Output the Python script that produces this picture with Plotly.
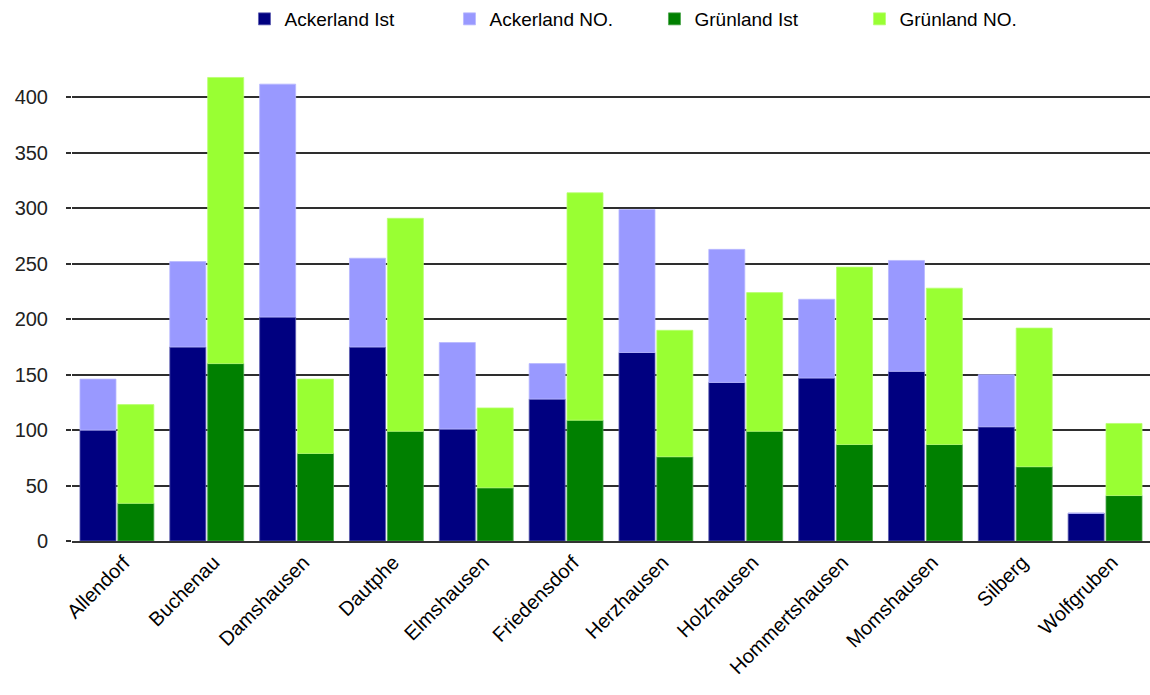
import plotly.graph_objects as go

# Ortsteile
orte = ["Allendorf", "Buchenau", "Damshausen", "Dautphe", "Elmshausen", "Friedensdorf",
        "Herzhausen", "Holzhausen", "Hommertshausen", "Momshausen", "Silberg", "Wolfgruben"]

# Flächen (Ist-Bestand und Zuwachs laut NO.)
ackerland_ist = [100, 175, 202, 175, 101, 128, 170, 143, 147, 153, 103, 25]
ackerland_no = [46, 77, 210, 80, 78, 32, 129, 120, 71, 100, 47, 0]
gruenland_ist = [34, 160, 79, 99, 48, 109, 76, 99, 87, 87, 67, 41]
gruenland_no = [89, 258, 67, 192, 72, 205, 114, 125, 160, 141, 125, 65]

y_ticks = [0, 50, 100, 150, 200, 250, 300, 350, 400]

FONT = "Liberation Sans, Arial, sans-serif"

fig = go.Figure()
fig.add_trace(go.Bar(name="Ackerland Ist", x=orte, y=ackerland_ist, offsetgroup="acker",
                     marker=dict(color="#000080", line=dict(color="#5c5cb0", width=0.8))))
fig.add_trace(go.Bar(name="Ackerland NO.", x=orte, y=ackerland_no, base=ackerland_ist,
                     offsetgroup="acker",
                     marker=dict(color="#9999FF", line=dict(color="#b8b8ff", width=0.8))))
fig.add_trace(go.Bar(name="Grünland Ist", x=orte, y=gruenland_ist, offsetgroup="gruen",
                     marker=dict(color="#008000", line=dict(color="#4ca64c", width=0.8))))
fig.add_trace(go.Bar(name="Grünland NO.", x=orte, y=gruenland_no, base=gruenland_ist,
                     offsetgroup="gruen",
                     marker=dict(color="#99FF33", line=dict(color="#b8ff70", width=0.8))))

fig.update_layout(
    width=1150, height=695,
    margin=dict(l=72, r=0, t=41.5, b=153.5),
    paper_bgcolor="white", plot_bgcolor="white",
    barmode="group", bargap=0.157, bargroupgap=0.049,
    font=dict(family=FONT, size=19, color="#000000"),
    showlegend=True,
    legend=dict(orientation="h", x=0.16, xanchor="left", y=1.047, yanchor="middle",
                entrywidth=160, entrywidthmode="pixels", traceorder="normal",
                font=dict(family=FONT, size=19, color="#000000"),
                bgcolor="rgba(0,0,0,0)"),
    xaxis=dict(tickangle=-45, showgrid=False, showline=True, linecolor="#333333",
               linewidth=1.8, ticks="", ticklabelshift=7,
               tickfont=dict(family=FONT, size=20)),
    yaxis=dict(range=[0, 450], tickvals=y_ticks, showgrid=True, gridcolor="#2e2e2e",
               gridwidth=1.6, zeroline=False, showline=False, ticks="outside",
               ticklen=5, tickcolor="#2e2e2e", tickwidth=1.6, ticklabelstandoff=14,
               tickfont=dict(family=FONT, size=20, color="#222222")),
)

fig.write_html("out.html")
